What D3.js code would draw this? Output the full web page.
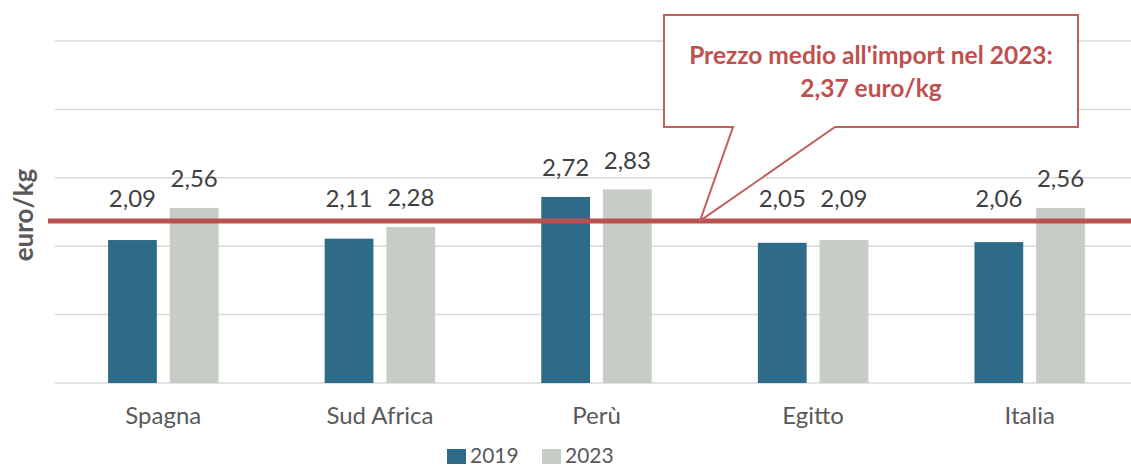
<!DOCTYPE html>
<html lang="it">
<head>
<meta charset="UTF-8">
<title>Prezzo medio all'import</title>
<style>
  body { margin: 0; background: #fff; }
  svg { display: block; font-family: Lato, "Open Sans", sans-serif; }
</style>
</head>
<body>
<svg id="chart" width="1131" height="468"></svg>
<script src="https://d3js.org/d3.v7.min.js"></script>
<script>
// data
var countries = ["Spagna", "Sud Africa", "Perù", "Egitto", "Italia"];
var years = ["2019", "2023"];
var values2019 = [2.09, 2.11, 2.72, 2.05, 2.06];
var values2023 = [2.56, 2.28, 2.83, 2.09, 2.56];
var avgPrice = 2.37;
var yTicks = [0, 1, 2, 3, 4, 5];
var calloutLines = ["Prezzo medio all'import nel 2023:", "2,37 euro/kg"];
var yTitle = "euro/kg";

var colors = { "2019": "#2e6b88", "2023": "#c6cdc5" };
var red = "#b9524f";

var svg = d3.select("#chart");
var W = 1131, H = 468;

var it = d3.formatLocale({ decimal: ",", thousands: ".", grouping: [3], currency: ["€", ""] });
var fmt = it.format(".2f");

var x0 = d3.scaleBand().domain(countries).range([55, 1138]).paddingInner(0.49).paddingOuter(0.245);
var x1 = d3.scaleBand().domain(years).range([0, x0.bandwidth()]).paddingInner(0.21);
var y = d3.scaleLinear().domain([0, 5]).range([383, 41]);

// gridlines
svg.append("g")
   .selectAll("line")
   .data(yTicks)
   .enter().append("line")
   .attr("x1", 55).attr("x2", W)
   .attr("y1", function(d) { return y(d); })
   .attr("y2", function(d) { return y(d); })
   .attr("stroke", "#d9d9d9")
   .attr("stroke-width", 1.5);

var rows = countries.map(function(c, i) {
    return { country: c, values: [
        { year: "2019", value: values2019[i] },
        { year: "2023", value: values2023[i] }
    ] };
});

var groups = svg.append("g")
   .selectAll("g")
   .data(rows)
   .enter().append("g")
   .attr("transform", function(d) { return "translate(" + x0(d.country) + ",0)"; });

groups.selectAll("rect")
   .data(function(d) { return d.values; })
   .enter().append("rect")
   .attr("x", function(d) { return x1(d.year); })
   .attr("y", function(d) { return y(d.value); })
   .attr("width", x1.bandwidth())
   .attr("height", function(d) { return y(0) - y(d.value); })
   .attr("fill", function(d) { return colors[d.year]; });

// average line
svg.append("line")
   .attr("x1", 48).attr("x2", W)
   .attr("y1", y(avgPrice)).attr("y2", y(avgPrice))
   .attr("stroke", red)
   .attr("stroke-width", 5);

// value labels, kept above the red line
groups.selectAll("text")
   .data(function(d) { return d.values; })
   .enter().append("text")
   .attr("x", function(d) { return x1(d.year) + x1.bandwidth() / 2; })
   .attr("y", function(d) { return Math.min(y(d.value) - 29, y(avgPrice) - 22); })
   .attr("dy", "0.35em")
   .attr("text-anchor", "middle")
   .attr("font-size", 24)
   .attr("fill", "#404040")
   .text(function(d) { return fmt(d.value); });

// category axis
svg.append("g")
   .selectAll("text")
   .data(countries)
   .enter().append("text")
   .attr("x", function(d) { return x0(d) + x0.bandwidth() / 2; })
   .attr("y", 424)
   .attr("text-anchor", "middle")
   .attr("font-size", 24)
   .attr("fill", "#595959")
   .text(function(d) { return d; });

// y title
svg.append("text")
   .attr("transform", "translate(33,215) rotate(-90)")
   .attr("text-anchor", "middle")
   .attr("font-size", 26)
   .attr("font-weight", "bold")
   .attr("fill", "#595959")
   .text(yTitle);

// callout
var tipX = 700, tipY = y(avgPrice);
var box = { x0: 664, y0: 15, x1: 1078, y1: 127 };
var callout = d3.path();
callout.moveTo(box.x0, box.y0);
callout.lineTo(box.x1, box.y0);
callout.lineTo(box.x1, box.y1);
callout.lineTo(835, box.y1);
callout.lineTo(tipX, tipY);
callout.lineTo(733, box.y1);
callout.lineTo(box.x0, box.y1);
callout.closePath();
svg.append("path")
   .attr("d", callout.toString())
   .attr("fill", "#fff")
   .attr("stroke", "#c0605c")
   .attr("stroke-width", 2);

svg.append("g")
   .selectAll("text")
   .data(calloutLines)
   .enter().append("text")
   .attr("x", (box.x0 + box.x1) / 2)
   .attr("y", function(d, i) { return 55 + i * 33; })
   .attr("dy", "0.35em")
   .attr("text-anchor", "middle")
   .attr("font-size", 24.5)
   .attr("font-weight", "bold")
   .attr("fill", "#c0504d")
   .text(function(d) { return d; });

// legend
var legend = svg.append("g")
   .selectAll("g")
   .data(years)
   .enter().append("g")
   .attr("transform", function(d, i) { return "translate(" + (447 + i * 95) + ",449)"; });
legend.append("rect")
   .attr("width", 19).attr("height", 15)
   .attr("fill", function(d) { return colors[d]; });
legend.append("text")
   .attr("x", 23).attr("y", 14)
   .attr("font-size", 21)
   .attr("fill", "#595959")
   .text(function(d) { return d; });
</script>
</body>
</html>
